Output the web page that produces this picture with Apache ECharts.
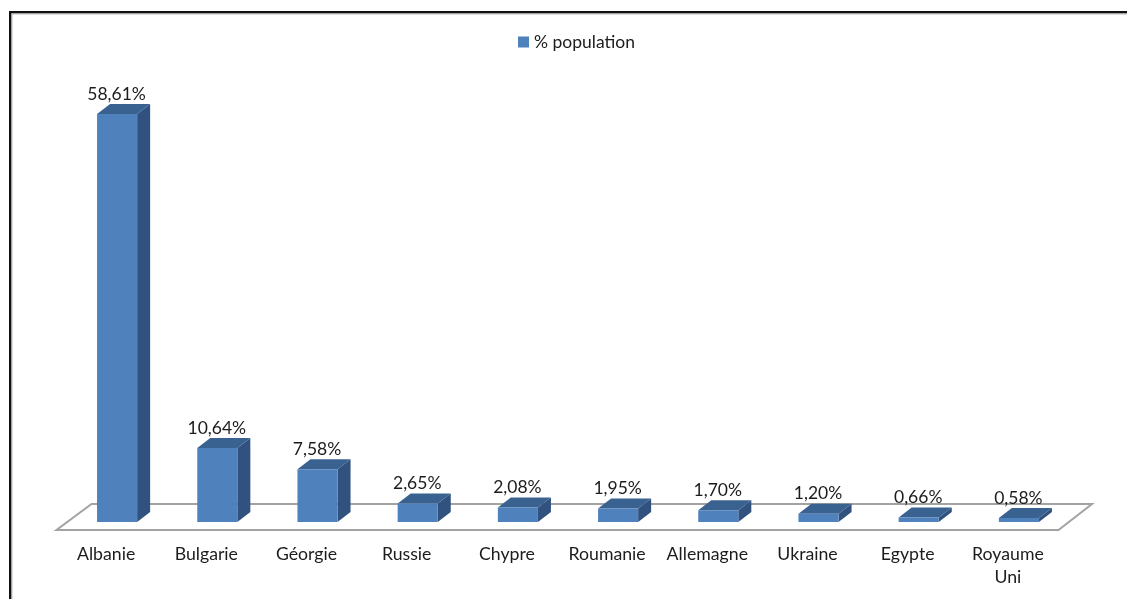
<!DOCTYPE html>
<html><head><meta charset="utf-8">
<style>html,body{margin:0;padding:0;background:#fff}#c{width:1127px;height:599px}</style>
<script src="https://cdn.jsdelivr.net/npm/echarts@6/dist/echarts.min.js"></script>
</head><body><div id="c"></div>
<script>
const categories = ['Albanie','Bulgarie','Géorgie','Russie','Chypre','Roumanie','Allemagne','Ukraine','Egypte','Royaume Uni'];
const populationShare = [58.61,10.64,7.58,2.65,2.08,1.95,1.70,1.20,0.66,0.58];
const seriesName = '% population';
const FONT = 'Lato';
const INK = '#1c1c1c';
const DX = 13, DY = -10, SHIFT = 11;

const chart = echarts.init(document.getElementById('c'), null, {renderer:'canvas'});

function renderFloor(params, api){
  const r = params.coordSys;
  const y0 = r.y + r.height, xl = r.x, xr = r.x + r.width;
  return {
    type:'polygon', silent:true,
    shape:{points:[[xl+0.5,y0+8],[xr+0.5,y0+8],[xr+34,y0-18],[xl+35.5,y0-18]]},
    style:{fill:'#fff',stroke:'#A3A3A3',lineWidth:2}
  };
}
function renderBar(params, api){
  const i = api.value(0), v = api.value(1);
  const base = api.coord([i,0]), top = api.coord([i,v]);
  const w = api.size([1,0])[0]*0.4;
  const cx = base[0]+SHIFT;
  const l = cx-w/2, rr = cx+w/2, b = base[1], t = top[1];
  return {type:'group',children:[
    {type:'polygon',shape:{points:[[rr,t],[rr+DX,t+DY],[rr+DX,b+DY],[rr,b]]},style:{fill:'#31527E'}},
    {type:'polygon',shape:{points:[[l,t],[l+DX,t+DY],[rr+DX,t+DY],[rr,t]]},style:{fill:'#3A6291'}},
    {type:'rect',shape:{x:l,y:t,width:w,height:b-t},style:{fill:'#4F81BD'}},
    {type:'text',style:{x:cx-0.5,y:t+DY-10,text:v.toFixed(2).replace('.',',')+'%',
      font:'17.5px '+FONT,fill:INK,align:'center',verticalAlign:'middle'}}
  ]};
}

chart.setOption({
  animation:false,
  backgroundColor:'#fff',
  textStyle:{fontFamily:FONT},
  legend:{show:true,left:513,top:28,itemWidth:11,itemHeight:11,itemGap:4,
    data:[{name:seriesName,icon:'rect'}],
    textStyle:{fontFamily:FONT,fontSize:17.5,color:INK}},
  grid:{left:56,width:1002,top:104.3,height:417.7},
  xAxis:{type:'category',data:categories,
    axisLine:{show:false},axisTick:{show:false},
    axisLabel:{interval:0,margin:21,fontFamily:FONT,fontSize:17.7,color:INK,lineHeight:23,
      verticalAlign:'top',formatter:s=>s.replace(' ','\n')}},
  yAxis:{type:'value',min:0,max:60,show:false,splitLine:{show:false}},
  series:[
    {type:'custom',silent:true,coordinateSystem:'cartesian2d',renderItem:renderFloor,data:[[0,0]],z:1,legendHoverLink:false},
    {type:'custom',name:seriesName,coordinateSystem:'cartesian2d',renderItem:renderBar,
      itemStyle:{color:'#4F81BD'},encode:{x:0,y:1},z:2,
      data:populationShare.map((v,i)=>[i,v])}
  ],
  graphic:[
    {type:'rect',silent:true,shape:{x:9,y:11,width:1118,height:2.5},style:{fill:'#111'},z:10},
    {type:'rect',silent:true,shape:{x:9,y:11,width:2.5,height:588},style:{fill:'#111'},z:10},
    {type:'rect',silent:true,shape:{x:11.5,y:13.5,width:1115.5,height:1},style:{fill:'#BDBDBD'},z:10},
    {type:'rect',silent:true,shape:{x:11.5,y:13.5,width:1,height:585.5},style:{fill:'#BDBDBD'},z:10}
  ]
});
</script></body></html>
